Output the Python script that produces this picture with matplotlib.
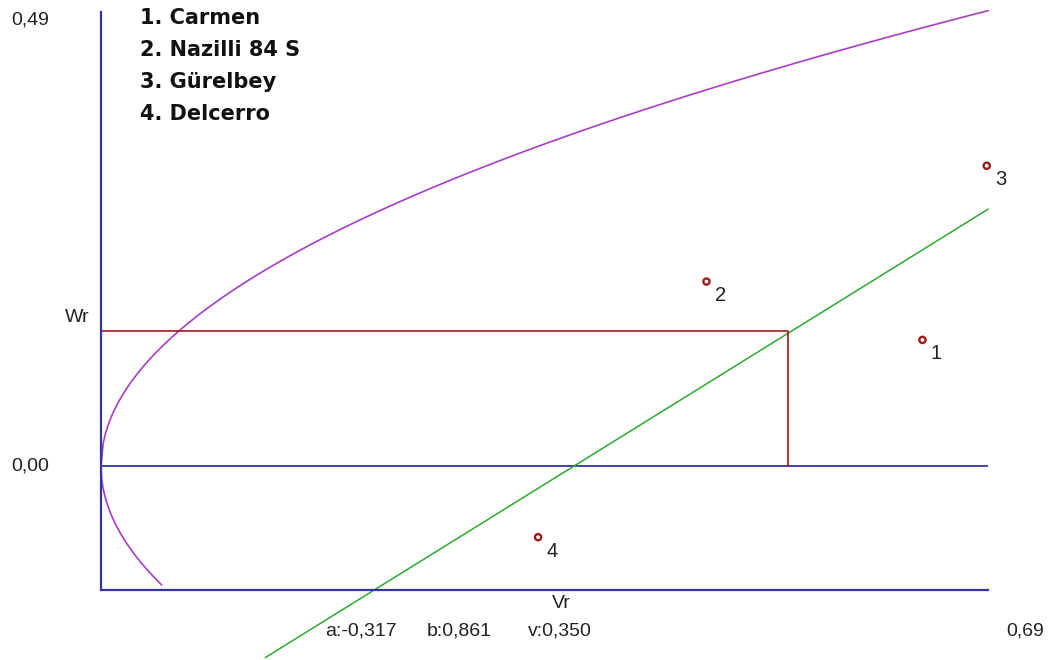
import numpy as np
import matplotlib
matplotlib.use("Agg")
import matplotlib.pyplot as plt

# Parents and their (Vr, Wr) coordinates
parents = ["Carmen", "Nazilli 84 S", "Gürelbey", "Delcerro"]
vr = [0.639, 0.471, 0.689, 0.340]
wr = [0.136, 0.199, 0.324, -0.077]

# Regression Wr = a + b*Vr and parental variance for the limiting parabola
a_coef = -0.317
b_coef = 0.861
v_parent = 0.350

vr_max = 0.69
wr_max = 0.49
wr_min = -0.134

AXIS = "#3434a4"
PURPLE = "#a63fc6"
GREEN = "#2fa82f"
RED = "#a01a1a"


def comma(x, fmt="{:.2f}"):
    return fmt.format(x).replace(".", ",")


W, H = 1055, 660
fig = plt.figure(figsize=(W / 100, H / 100), dpi=100)
fig.patch.set_facecolor("white")

left, right, top, bottom = 101, 988, 12, 590
ax = fig.add_axes([left / W, 1 - bottom / H, (right - left) / W, (bottom - top) / H])
ax.set_xlim(0, vr_max)
ax.set_ylim(wr_min, wr_max)
ax.patch.set_visible(False)
for s in ["top", "right"]:
    ax.spines[s].set_visible(False)
for s in ["left", "bottom"]:
    ax.spines[s].set_color(AXIS)
    ax.spines[s].set_linewidth(1.6)
ax.set_xticks([])
ax.set_yticks([])
ax.axhline(0, color=AXIS, lw=1.3)

# Limiting parabola Wr^2 = Vr * Vp
upper = np.linspace(0, vr_max, 400)
ax.plot(upper, np.sqrt(upper * v_parent), color=PURPLE, lw=1.2, clip_on=False)
lower = np.linspace(0, 0.047, 100)
ax.plot(lower, -np.sqrt(lower * v_parent), color=PURPLE, lw=1.2, clip_on=False)

# Regression line
reg_x = np.array([0.128, vr_max])
ax.plot(reg_x, a_coef + b_coef * reg_x, color=GREEN, lw=1.1, clip_on=False)

# Mean Vr / Wr guides
mvr = np.mean(vr)
mwr = np.mean(wr)
ax.plot([0, mvr, mvr], [mwr, mwr, 0], color=RED, lw=1.2)

# Parent points with numbers
ax.scatter(vr, wr, s=20, facecolors="none", edgecolors=RED, linewidths=1.7,
           zorder=5, clip_on=False)
for i, (x, y) in enumerate(zip(vr, wr)):
    ax.annotate(str(i + 1), (x, y), xytext=(10, -10), textcoords="offset points",
                ha="center", va="center", fontsize=14.5, color="#222222",
                family="Liberation Sans", annotation_clip=False)


def ftext(x, y, s, **kw):
    kw.setdefault("family", "Liberation Sans")
    kw.setdefault("fontsize", 14)
    kw.setdefault("color", "#222222")
    fig.text(x / W, 1 - y / H, s, **kw)


ftext(30, 20, comma(wr_max), ha="center", va="center")
ftext(30, 466, comma(0.0), ha="center", va="center")
ftext(77, 318, "Wr", ha="center", va="center")
ftext(561, 603, "Vr", ha="center", va="center")
ftext(1025, 631, comma(vr_max), ha="center", va="center")
ftext(325, 631, "a:" + comma(a_coef, "{:.3f}"), ha="left", va="center")
ftext(427, 631, "b:" + comma(b_coef, "{:.3f}"), ha="left", va="center")
ftext(528, 631, "v:" + comma(v_parent, "{:.3f}"), ha="left", va="center")

# Legend of parent names
for i, name in enumerate(parents):
    ftext(140, 18 + 32 * i, f"{i + 1}. {name}", ha="left", va="center",
          family="DejaVu Sans", fontweight="bold", fontsize=15, color="#111111")

fig.savefig("out.png", dpi=100, facecolor="white")
